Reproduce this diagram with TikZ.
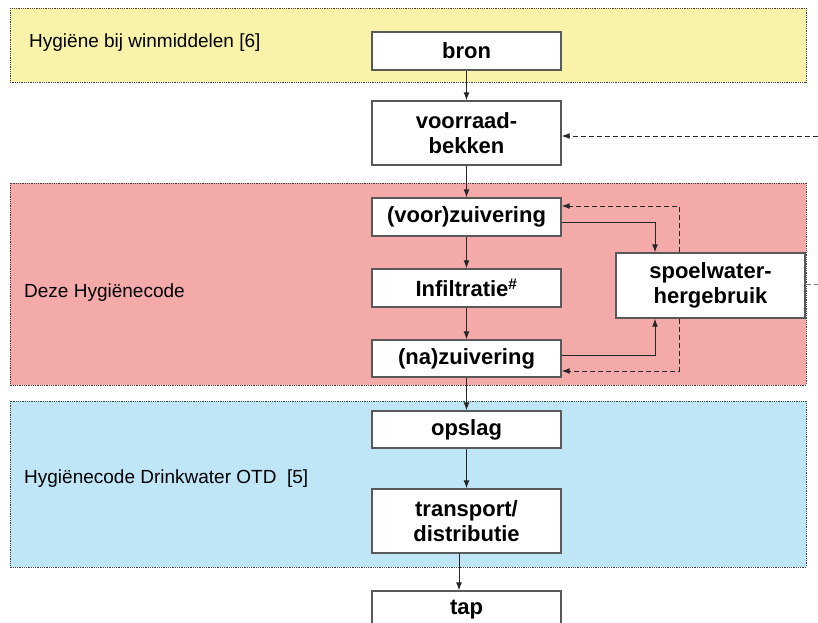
\documentclass[tikz,border=0pt]{standalone}
\usepackage{fontspec}
\setmainfont{Liberation Sans}
\usetikzlibrary{arrows.meta}
\definecolor{geel}{RGB}{248,243,168}
\definecolor{roze}{RGB}{245,170,170}
\definecolor{blauw}{RGB}{190,230,247}

\begin{document}
\begin{tikzpicture}[x=1pt,y=-1pt,
    stap/.style={draw=black!65,line width=1.4pt,fill=white,minimum width=189pt,inner sep=0pt,align=center,font=\fontsize{22}{25}\selectfont\bfseries},
    band/.style={draw=black!75,densely dotted,line width=0.8pt},
    pijl/.style={black!85,line width=1pt,-{Latex[length=8pt,width=6pt]}},
    terug/.style={pijl,dash pattern=on 5pt off 3pt},
    bandtekst/.style={anchor=west,inner sep=0pt,font=\fontsize{19}{22}\selectfont}]
    \clip (0,0) rectangle (818,622);
    \fill[white] (0,0) rectangle (818,622);
    \filldraw[band,fill=geel] (10,8) rectangle (806,82);
    \filldraw[band,fill=roze] (10,183) rectangle (806,385);
    \filldraw[band,fill=blauw] (10,401) rectangle (806,567);
    \node[bandtekst] (winmiddelen) at (29,43) {Hygiëne bij winmiddelen [6]};
    \node[bandtekst] (hygienecode) at (24,293) {Deze Hygiënecode};
    \node[bandtekst] (otd) at (24,479) {Hygiënecode Drinkwater OTD\ \ [5]};
    \node[stap,minimum height=38pt] (bron) at (466.5,51) {bron};
    \node[stap,minimum height=64pt] (bekken) at (466.5,133) {voorraad-\\bekken};
    \node[stap,minimum height=38pt] (voor) at (466.5,217) {(voor)zuivering};
    \node[stap,minimum height=38pt] (infiltratie) at (466.5,288) {Infiltratie\textsuperscript{\#}};
    \node[stap,minimum height=37pt] (na) at (466.5,358.5) {(na)zuivering};
    \node[stap,minimum height=65pt] (spoel) at (710.5,285.5) {spoelwater-\\hergebruik};
    \node[stap,minimum height=37pt] (opslag) at (466.5,429.5) {opslag};
    \node[stap,minimum height=64pt] (transport) at (466.5,521) {transport/\\distributie};
    \node[stap,minimum height=38pt] (tap) at (466.5,610) {tap};
    \coordinate (rand1) at (818,136);
    \coordinate (rand2) at (818,284);
    \draw[pijl] (bron) -- (bekken);
    \draw[pijl] (bekken) -- (voor);
    \draw[pijl] (voor) -- (infiltratie);
    \draw[pijl] (infiltratie) -- (na);
    \draw[pijl] (na) -- (opslag);
    \draw[pijl] (opslag) -- (transport);
    \draw[pijl] ([xshift=-7.5pt]transport.south) -- ([xshift=-7.5pt]tap.north);
    \draw[pijl] ([yshift=-5pt]voor.east) -| ([xshift=-55.5pt]spoel.north);
    \draw[pijl] ([yshift=3.5pt]na.east) -| ([xshift=-55.5pt]spoel.south);
    \draw[terug] ([xshift=-31.5pt]spoel.north) |- ([yshift=11pt]voor.east);
    \draw[terug] ([xshift=-31.5pt]spoel.south) |- ([yshift=-12.5pt]na.east);
    \draw[terug] (rand1) -- (rand1 -| bekken.east);
    \draw[black!50,line width=1pt,dash pattern=on 5pt off 3pt] (spoel.east |- rand2) -- (rand2);
\end{tikzpicture}
\end{document}
